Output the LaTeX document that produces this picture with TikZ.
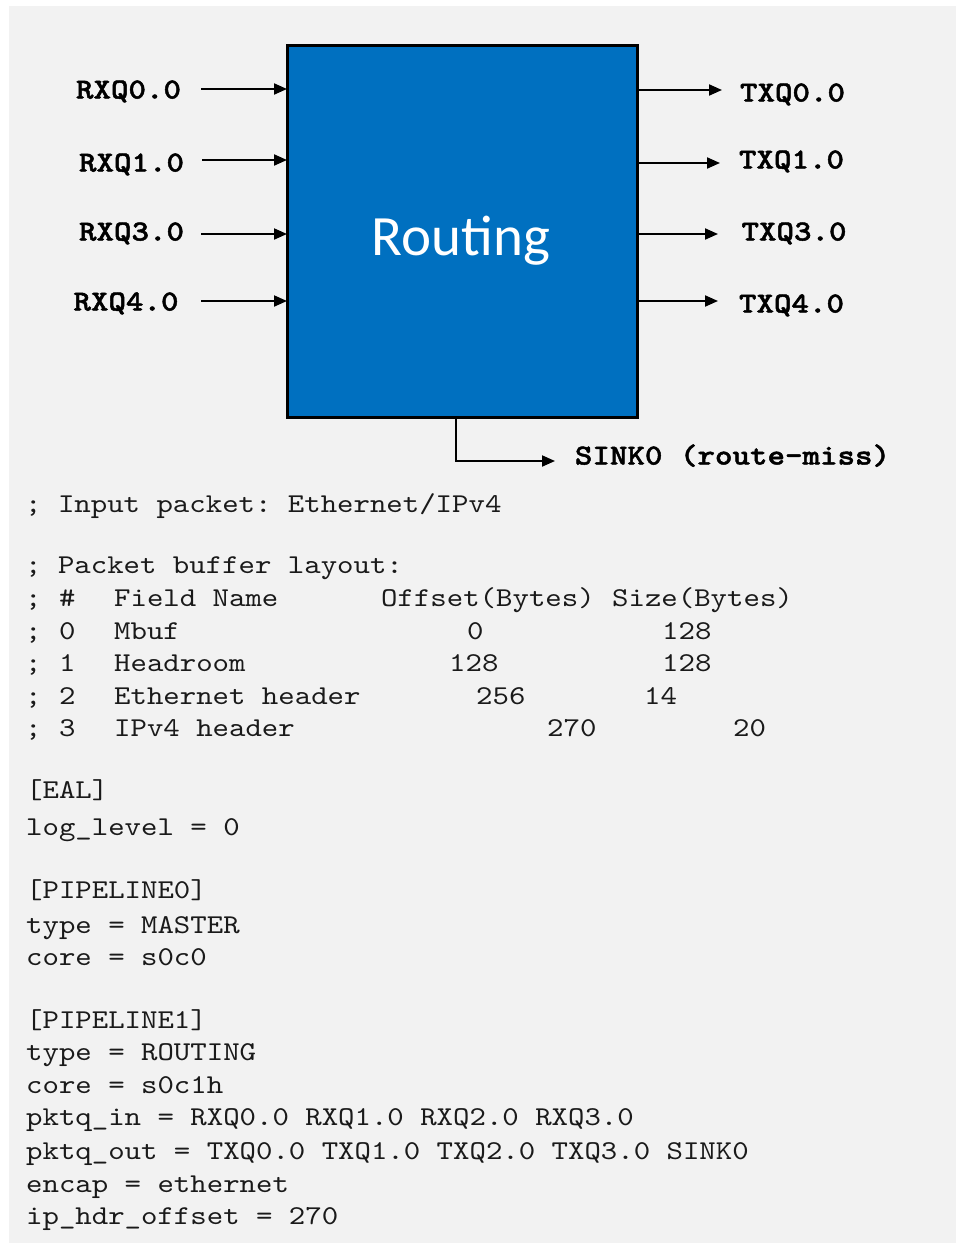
\documentclass[tikz,border=0pt]{standalone}
\usepackage{fontspec}
\newfontfamily\cmono{lmmono10-regular.otf}[FakeStretch=1.15]
\newfontfamily\cmonob{lmmonolt10-bold.otf}[FakeStretch=1.15, FakeBold=1.6]
\newfontfamily\calibrifont{Carlito}
\usetikzlibrary{arrows.meta}
\definecolor{bgc}{HTML}{F2F2F2}
\definecolor{rblue}{HTML}{0070C0}
\definecolor{txt}{HTML}{1A1A1A}
\frenchspacing
\begin{document}
\begin{tikzpicture}[x=1pt,y=-1pt,
  lbl/.style={font=\cmonob\fontsize{29}{34}\selectfont, inner sep=0pt, anchor=base},
  code/.style={font=\cmono\fontsize{27.2}{33}\selectfont, inner sep=0pt, anchor=base west, text=txt},
  arr/.style={line width=2pt, -{Triangle[length=13pt,width=11pt]}}]
\useasboundingbox (0,0) rectangle (958,1245);
\fill[bgc] (9,6) rectangle (956,1243);
% block
\node[draw=black, line width=3pt, fill=rblue, minimum width=350pt, minimum height=372pt, inner sep=0pt, outer sep=0pt] (box) at (462,231) {};
\node[font=\calibrifont\fontsize{57}{60}\selectfont, text=white, anchor=base] (title) at (461,255) {Routing};
% input labels
\node[lbl] (rx0) at (128.5,98.5) {RXQ0.0};
\node[lbl] (rx1) at (131.5,171.5) {RXQ1.0};
\node[lbl] (rx3) at (131.5,240.5) {RXQ3.0};
\node[lbl] (rx4) at (126,310.5) {RXQ4.0};
\coordinate (a0) at (201,89);
\coordinate (a1) at (202,160);
\coordinate (a3) at (201,234);
\coordinate (a4) at (201,301);
\draw[arr] (a0) -- (a0 -| box.west);
\draw[arr] (a1) -- (a1 -| box.west);
\draw[arr] (a3) -- (a3 -| box.west);
\draw[arr] (a4) -- (a4 -| box.west);
% output labels
\node[lbl] (tx0) at (792.5,101.5) {TXQ0.0};
\node[lbl] (tx1) at (791.5,168.5) {TXQ1.0};
\node[lbl] (tx3) at (794,240.5) {TXQ3.0};
\node[lbl] (tx4) at (791.5,312.5) {TXQ4.0};
\coordinate (b0) at (722,90);
\coordinate (b1) at (720,163);
\coordinate (b3) at (718,234);
\coordinate (b4) at (718,301);
\draw[arr] (b0 -| box.east) -- (b0);
\draw[arr] (b1 -| box.east) -- (b1);
\draw[arr] (b3 -| box.east) -- (b3);
\draw[arr] (b4 -| box.east) -- (b4);
% sink
\node[lbl] (sink) at (732.5,464.5) {SINK0 (route-miss)};
\coordinate (sk) at (555,461);
\coordinate (sb) at (456,417);
\draw[arr] (sb) |- (sk);
% code text
\node[code] (l1) at (25,512) {; Input packet: Ethernet/IPv4};
\node[code] (l2) at (25,573) {; Packet buffer layout:};
% table
\node[code] (h0) at (25,606) {;};
\node[code] (h1) at (59,606) {\#};
\node[code] (h2) at (114,606) {Field Name};
\node[code] (h3) at (381,606) {Offset(Bytes)};
\node[code] (h4) at (612,606) {Size(Bytes)};
\node[code] (r0a) at (25,639) {;};
\node[code] (r0b) at (59,639) {0};
\node[code] (r0c) at (114,639) {Mbuf};
\node[code] (r0d) at (467,639) {0};
\node[code] (r0e) at (662,639) {128};
\node[code] (r1a) at (25,671) {;};
\node[code] (r1b) at (59,671) {1};
\node[code] (r1c) at (114,671) {Headroom};
\node[code] (r1d) at (449,671) {128};
\node[code] (r1e) at (662,671) {128};
\node[code] (r2a) at (25,704) {;};
\node[code] (r2b) at (59,704) {2};
\node[code] (r2c) at (114,704) {Ethernet header};
\node[code] (r2d) at (476,704) {256};
\node[code] (r2e) at (644,704) {14};
\node[code] (r3a) at (25,736) {;};
\node[code] (r3b) at (59,736) {3};
\node[code] (r3c) at (114,736) {IPv4 header};
\node[code] (r3d) at (547,736) {270};
\node[code] (r3e) at (733,736) {20};
% config
\node[code] (c1) at (26,798) {[EAL]};
\node[code] (c2) at (26,835) {log\_level = 0};
\node[code] (c3) at (26,898) {[PIPELINE0]};
\node[code] (c4) at (26,933) {type = MASTER};
\node[code] (c5) at (26,965) {core = s0c0};
\node[code] (c6) at (26,1028) {[PIPELINE1]};
\node[code] (c7) at (26,1060) {type = ROUTING};
\node[code] (c8) at (26,1093) {core = s0c1h};
\node[code] (c9) at (26,1125) {pktq\_in = RXQ0.0 RXQ1.0 RXQ2.0 RXQ3.0};
\node[code] (c10) at (26,1159) {pktq\_out = TXQ0.0 TXQ1.0 TXQ2.0 TXQ3.0 SINK0};
\node[code] (c11) at (26,1192) {encap = ethernet};
\node[code] (c12) at (26,1224) {ip\_hdr\_offset = 270};
\end{tikzpicture}
\end{document}
